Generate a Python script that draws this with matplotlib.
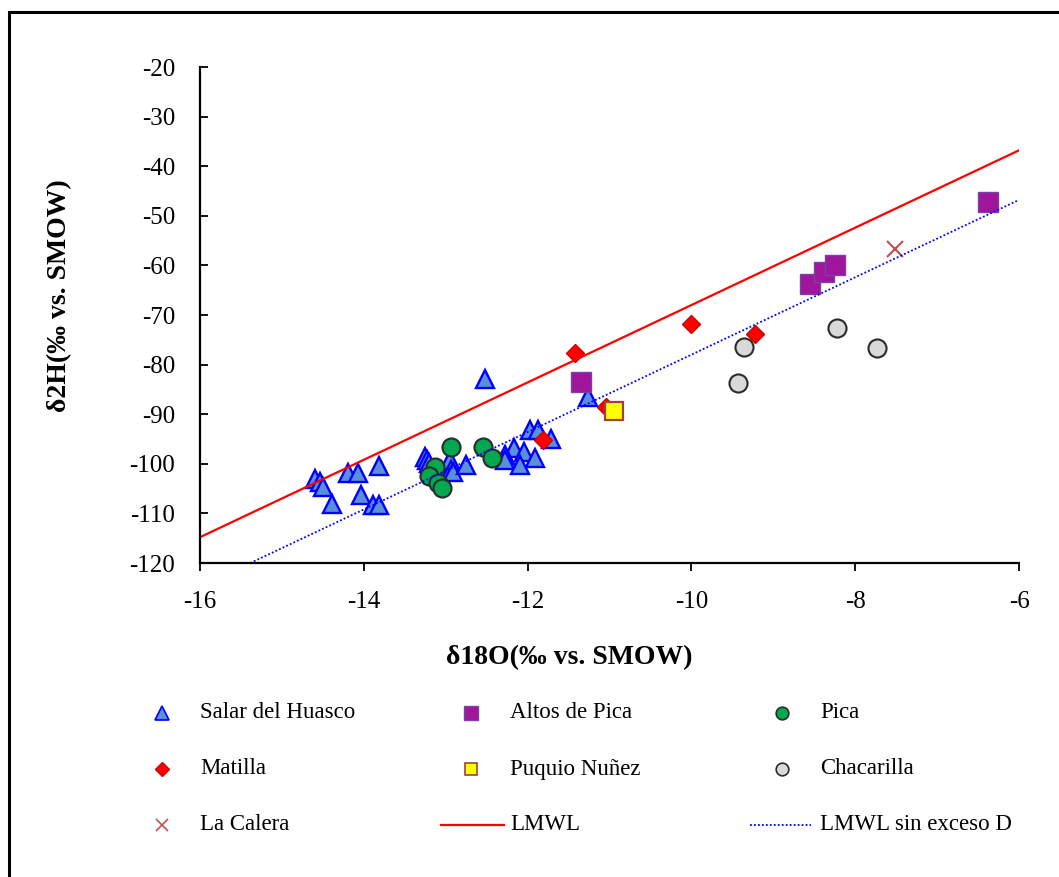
import matplotlib
matplotlib.use("Agg")
import matplotlib.pyplot as plt
from matplotlib.lines import Line2D
from matplotlib.patches import Rectangle
import numpy as np

# Isotope data, d18O (x) and d2H (y), per sampling area
salar_x = [-14.60, -14.54, -14.50, -14.39, -14.19, -14.07, -13.81, -14.03, -13.89, -13.81,
           -13.25, -13.23, -13.20, -12.95, -12.93, -12.91, -12.75, -12.52, -11.97, -11.87,
           -11.71, -12.17, -12.28, -12.05, -11.91, -12.28, -12.09, -11.26]
salar_y = [-103.1, -103.6, -104.6, -108.1, -101.9, -101.9, -100.4, -106.3, -108.3, -108.3,
           -98.6, -99.2, -99.9, -99.2, -101.3, -101.6, -100.2, -83.0, -93.2, -93.2,
           -94.9, -96.9, -98.2, -97.6, -98.9, -99.2, -100.2, -86.5]

altos_x = [-11.35, -8.55, -8.38, -8.25, -6.38]
altos_y = [-83.6, -63.8, -61.3, -59.9, -47.2]

pica_x = [-12.93, -13.13, -13.20, -13.09, -13.05, -12.54, -12.43]
pica_y = [-96.7, -100.6, -102.4, -103.9, -104.9, -96.7, -98.9]

matilla_x = [-11.42, -11.81, -11.04, -10.01, -9.22]
matilla_y = [-77.7, -95.2, -88.5, -71.9, -73.8]

puquio_x = [-10.94]
puquio_y = [-89.3]

chaca_x = [-9.36, -9.43, -8.22, -7.73]
chaca_y = [-76.5, -83.8, -72.7, -76.7]

calera_x = [-7.51]
calera_y = [-56.6]

# Local meteoric water lines: dD = slope * d18O + intercept
lmwl_slope, lmwl_icpt = 7.8, 10.0
sin_slope, sin_icpt = 7.8, 0.0

W, H = 1059, 877
plt.rcParams["font.family"] = ["Liberation Serif", "DejaVu Serif"]
plt.rcParams["axes.unicode_minus"] = False
fig = plt.figure(figsize=(W / 100, H / 100), dpi=100)


def fx(px):
    return px / W


def fy(py):
    return 1 - py / H


ax = fig.add_axes([fx(200), fy(563), fx(1019) - fx(200), fy(67) - fy(563)])
ax.set_xlim(-16, -6)
ax.set_ylim(-120, -20)

styles = {
    "salar": dict(marker="^", ms=13.5, mfc="#5B8FD9", mec="#0000FF", mew=1.7),
    "altos": dict(marker="s", ms=14, mfc="#A0169A", mec="#7A3FA8", mew=1.0),
    "pica": dict(marker="o", ms=13, mfc="#00A84F", mec="#2B2B2B", mew=1.5),
    "matilla": dict(marker="D", ms=9.5, mfc="#FF0000", mec="#D00000", mew=1.0),
    "puquio": dict(marker="s", ms=13, mfc="#FFFF00", mec="#A0403C", mew=1.6),
    "chaca": dict(marker="o", ms=13, mfc="#D9D9D9", mec="#2B2B2B", mew=1.5),
    "calera": dict(marker="x", ms=12, mfc="none", mec="#C0504D", mew=1.5),
}

ax.plot(salar_x, salar_y, ls="none", **styles["salar"])
ax.plot(altos_x, altos_y, ls="none", **styles["altos"])
ax.plot(pica_x, pica_y, ls="none", **styles["pica"])
ax.plot(matilla_x, matilla_y, ls="none", **styles["matilla"])
ax.plot(puquio_x, puquio_y, ls="none", **styles["puquio"])
ax.plot(chaca_x, chaca_y, ls="none", **styles["chaca"])
ax.plot(calera_x, calera_y, ls="none", **styles["calera"])

xs = np.array([-16, -6])
ax.plot(xs, lmwl_slope * xs + lmwl_icpt, color="#FF0000", lw=1.6)
ax.plot(xs, sin_slope * xs + sin_icpt, color="#0000FF", lw=1.3, ls=(0, (1, 1.2)))

for side in ["top", "right"]:
    ax.spines[side].set_visible(False)
for side in ["left", "bottom"]:
    ax.spines[side].set_linewidth(1.6)

ax.set_xticks(np.arange(-16, -5, 2))
ax.set_yticks(np.arange(-120, -19, 10))
ax.tick_params(axis="y", direction="in", length=6, width=1.3, pad=18, labelsize=18)
ax.tick_params(axis="x", direction="out", length=6, width=1.3, pad=14, labelsize=18)

fig.text(fx(569), fy(658), "δ18O(‰ vs. SMOW)", ha="center", va="center",
         fontsize=20, fontweight="bold")
fig.text(fx(60), fy(296), "δ2H(‰ vs. SMOW)", ha="center", va="center",
         rotation=90, fontsize=20, fontweight="bold")

# Legend, three rows by three columns
rows = [713, 769, 825]
cols = [(162, 200), (471, 510), (782, 820)]
entries = [
    ("salar", "Salar del Huasco"), ("altos", "Altos de Pica"), ("pica", "Pica"),
    ("matilla", "Matilla"), ("puquio", "Puquio Nuñez"), ("chaca", "Chacarilla"),
    ("calera", "La Calera"), ("lmwl", "LMWL"), ("sin", "LMWL sin exceso D"),
]
for i, (key, label) in enumerate(entries):
    r, c = divmod(i, 3)
    mx, tx = cols[c]
    yy = fy(rows[r])
    if key == "lmwl":
        fig.add_artist(Line2D([fx(441), fx(504)], [yy, yy], color="#FF0000", lw=1.6))
    elif key == "sin":
        fig.add_artist(Line2D([fx(750), fx(811)], [yy, yy], color="#0000FF", lw=1.3,
                              ls=(0, (1, 1.2))))
    else:
        st = dict(styles[key])
        st["ms"] = st["ms"] * 0.7
        st["mew"] = min(st["mew"], 1.2)
        fig.add_artist(Line2D([fx(mx)], [yy], ls="none", **st))
    fig.text(fx(tx), yy, label, ha="left", va="center", fontsize=16.5)

# Chart area border
fig.add_artist(Rectangle((fx(9), fy(H + 20)), 1.2, fy(12) - fy(H + 20),
                         transform=fig.transFigure, fill=False, ec="black", lw=2.2))

fig.savefig("out.png", dpi=100)
